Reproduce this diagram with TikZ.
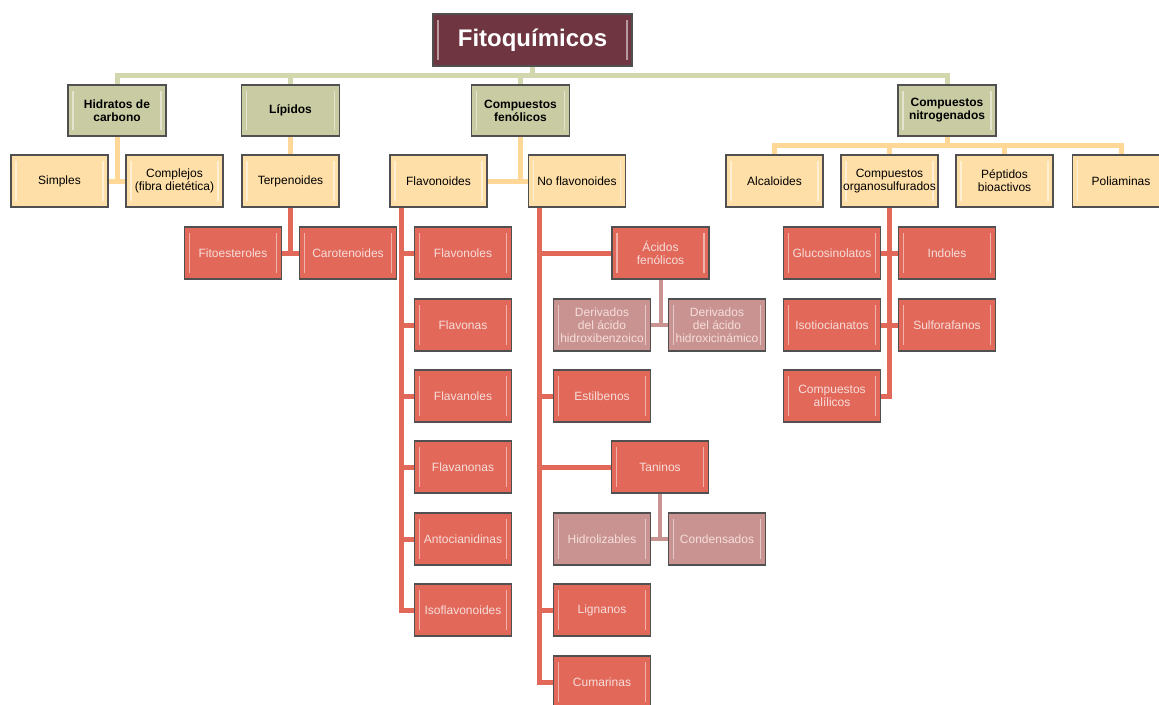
\documentclass[tikz,border=0pt]{standalone}
\usepackage{fontspec}
\setmainfont{Liberation Sans}
\definecolor{rootfill}{HTML}{6F3641}
\definecolor{grpfill}{HTML}{C9CCA3}
\definecolor{subfill}{HTML}{FFDFA8}
\definecolor{redfill}{HTML}{E2685A}
\definecolor{pinkfill}{HTML}{C99392}
\definecolor{boxline}{HTML}{505050}
\definecolor{busline}{HTML}{D3D7AE}
\definecolor{orline}{HTML}{FFD898}
\definecolor{redtext}{HTML}{F6DEDA}
\begin{document}
\begin{tikzpicture}[x=1pt,y=-1pt]
\tikzstyle{bevel}=[path picture={
  \draw[white,opacity=.5,line width=1.6pt]
    ([xshift=5pt,yshift=-6pt]path picture bounding box.north west) -- ([xshift=5pt,yshift=6pt]path picture bounding box.south west)
    ([xshift=-5pt,yshift=-6pt]path picture bounding box.north east) -- ([xshift=-5pt,yshift=6pt]path picture bounding box.south east);}]
\tikzstyle{b}=[draw=boxline,line width=1.1pt,minimum width=97pt,minimum height=52pt,inner sep=1pt,align=center,font=\fontsize{12}{13}\selectfont,bevel]
\tikzstyle{grp}=[b,fill=grpfill,minimum width=98pt,minimum height=51pt,font=\fontsize{12}{13}\selectfont\bfseries]
\tikzstyle{sub}=[b,fill=subfill]
\tikzstyle{rd}=[b,fill=redfill,text=redtext]
\tikzstyle{pk}=[b,fill=pinkfill,text=redtext]
\tikzstyle{bus}=[busline,line width=5pt]
\tikzstyle{ol}=[orline,line width=5pt]
\tikzstyle{rl}=[redfill,line width=5pt]
\tikzstyle{pl}=[pinkfill,line width=4pt]
\useasboundingbox (0,0) rectangle (1159,704);

% Root
\node[b,fill=rootfill,text=white,minimum width=199pt,font=\fontsize{24}{26}\selectfont\bfseries] (root) at (532.5,40) {Fitoquímicos};

% Groups
\node[grp] (hc) at (117,110.5) {Hidratos de\\carbono};
\node[grp] (lip) at (290.5,110.5) {Lípidos};
\node[grp] (fen) at (520.5,110.5) {Compuestos\\fenólicos};
\node[grp] (nit) at (947,110.5) {Compuestos\\nitrogenados};

% Second level
\node[sub] (simples) at (59.5,181) {Simples};
\node[sub] (complejos) at (174.5,181) {Complejos\\(fibra dietética)};
\node[sub] (terp) at (290.5,181) {Terpenoides};
\node[sub] (flavo) at (438.5,181) {Flavonoides};
\node[sub] (noflavo) at (577,181) {No flavonoides};
\node[sub] (alcal) at (774.5,181) {Alcaloides};
\node[sub] (orgs) at (889.5,181) {Compuestos\\organosulfurados};
\node[sub] (pept) at (1004.5,181) {Péptidos\\bioactivos};
\node[sub] (poli) at (1121,181) {Poliaminas};

% Lipidos
\node[rd] (fitoest) at (233,253) {Fitoesteroles};
\node[rd] (carot) at (348,253) {Carotenoides};

% Flavonoides
\node[rd] (flavonoles) at (463,253) {Flavonoles};
\node[rd] (flavonas) at (463,325) {Flavonas};
\node[rd] (flavanoles) at (463,396) {Flavanoles};
\node[rd] (flavanonas) at (463,467) {Flavanonas};
\node[rd] (antoc) at (463,539) {Antocianidinas};
\node[rd] (isofl) at (463,610) {Isoflavonoides};

% No flavonoides
\node[rd] (acidos) at (660.5,253) {Ácidos\\fenólicos};
\node[pk] (dhb) at (602,325) {Derivados\\del ácido\\hidroxibenzoico};
\node[pk] (dhc) at (717,325) {Derivados\\del ácido\\hidroxicinámico};
\node[rd] (estilb) at (602,396) {Estilbenos};
\node[rd] (taninos) at (660,467) {Taninos};
\node[pk] (hidrol) at (602,539) {Hidrolizables};
\node[pk] (conden) at (717,539) {Condensados};
\node[rd] (lign) at (602,610) {Lignanos};
\node[rd] (cumar) at (602,682) {Cumarinas};

% Organosulfurados
\node[rd] (glucos) at (832,253) {Glucosinolatos};
\node[rd] (indol) at (947,253) {Indoles};
\node[rd] (isotio) at (832,325) {Isotiocianatos};
\node[rd] (sulfo) at (947,325) {Sulforafanos};
\node[rd] (alil) at (832,396) {Compuestos\\alílicos};

% Connectors
\coordinate (top) at (0,75);
\draw[bus] (hc.north) |- (top -| nit.north) -- (nit.north);
\draw[bus] (lip.north) -- (lip.north |- top) (fen.north) -- (fen.north |- top) (root.south) -- (root.south |- top);

\draw[ol] (hc.south) -- (hc.south |- simples) (simples.east) -- (complejos.west);
\draw[ol] (lip.south) -- (terp.north);
\draw[ol] (fen.south) -- (fen.south |- flavo) (flavo.east) -- (noflavo.west);
\draw[ol] (alcal.north) -- ++(0,-9) -| (poli.north);
\draw[ol] (nit.south) -- ++(0,10) (orgs.north) -- ++(0,-9) (pept.north) -- ++(0,-9);

\draw[rl] (terp.south) -- (terp.south |- carot) (fitoest.east) -- (carot.west);
\foreach \n in {flavonoles,flavonas,flavanoles,flavanonas,antoc,isofl}
  \draw[rl] ([xshift=12pt]flavo.south west) |- (\n.west);
\foreach \n in {acidos,estilb,taninos,lign,cumar}
  \draw[rl] ([xshift=12pt]noflavo.south west) |- (\n.west);
\draw[rl] (orgs.south) |- (alil.east) (glucos.east) -- (indol.west) (isotio.east) -- (sulfo.west);

\draw[pl] (acidos.south) -- (acidos.south |- dhb) (dhb.east) -- (dhc.west);
\draw[pl] (taninos.south) -- (taninos.south |- hidrol) (hidrol.east) -- (conden.west);
\end{tikzpicture}
\end{document}
